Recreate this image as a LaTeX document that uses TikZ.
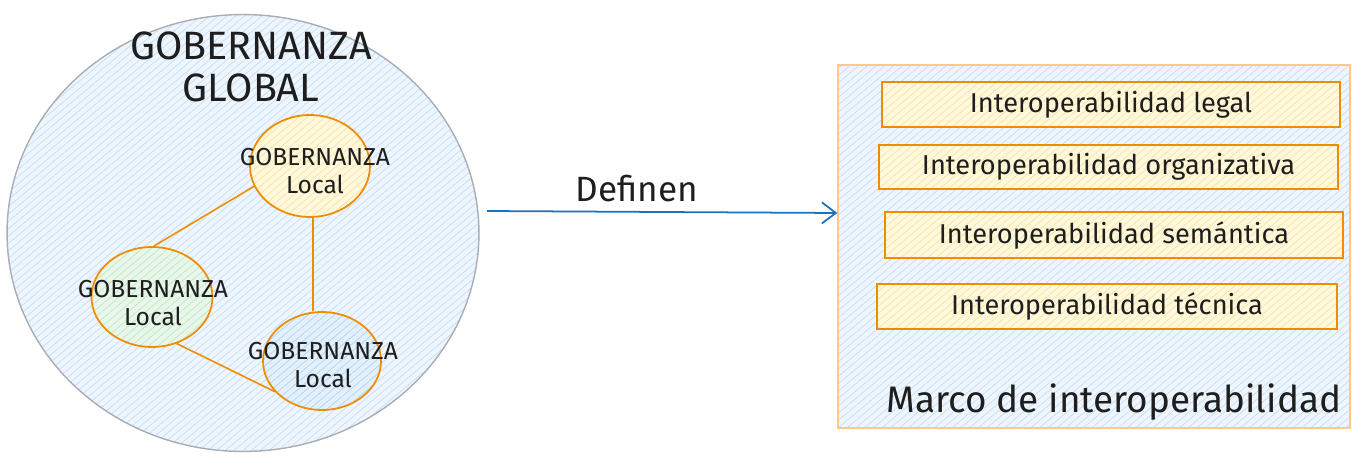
\documentclass[tikz,border=0pt]{standalone}
\usepackage{fontspec}
\setmainfont{Fira Sans}
\usetikzlibrary{shapes.geometric,patterns.meta,arrows.meta}
\definecolor{ink}{HTML}{1E1E1E}
\definecolor{blueFill}{HTML}{EEF5FC}
\definecolor{blueHatch}{HTML}{BFDDF7}
\definecolor{yelFill}{HTML}{FFF8DC}
\definecolor{yelHatch}{HTML}{F7E39A}
\definecolor{greFill}{HTML}{E9F7EA}
\definecolor{greHatch}{HTML}{B9E8BE}
\definecolor{bluSFill}{HTML}{E3F0FC}
\definecolor{bluSHatch}{HTML}{A9D1F5}
\definecolor{orng}{HTML}{F08C00}
\definecolor{lorng}{HTML}{FFC98A}
\definecolor{arrowblue}{HTML}{1971C2}
\definecolor{grayline}{HTML}{A8AEB4}
\tikzset{
  hatch/.style 2 args={preaction={fill=#1},pattern={Lines[angle=40,distance=3.2pt,line width=0.35pt]},pattern color=#2},
  localcirc/.style={ellipse,draw=orng,line width=1pt,inner sep=0pt},
  localtext/.style={text=ink,align=center,font=\fontsize{14}{15.5}\selectfont},
  layerbox/.style={rectangle,draw=orng,line width=1pt,inner sep=0pt,text=ink,font=\fontsize{15.5}{18}\selectfont,hatch={yelFill}{yelHatch}},
  link/.style={draw=orng,line width=0.9pt},
}
\begin{document}
\begin{tikzpicture}[x=0.02cm,y=-0.02cm]
\useasboundingbox (0,0) rectangle (1368,456);
% global circle
\node[ellipse,draw=grayline,line width=0.8pt,minimum width=9.44cm,minimum height=8.74cm,hatch={blueFill}{blueHatch}] (global) at (243,233) {};
\node[text=ink,align=center,font=\fontsize{22.5}{24}\selectfont] (gtitle) at (251,67) {GOBERNANZA\\GLOBAL};
% local circles
\node[localcirc,minimum width=2.4cm,minimum height=2.04cm,hatch={yelFill}{yelHatch}] (ly) at (310,166) {};
\node[localcirc,minimum width=2.42cm,minimum height=2.0cm,hatch={greFill}{greHatch}] (lg) at (152,297) {};
\node[localcirc,minimum width=2.36cm,minimum height=1.96cm,hatch={bluSFill}{bluSHatch}] (lb) at (322,361) {};
\node[localtext] (ty) at (315,171) {GOBERNANZA\\Local};
\node[localtext] (tg) at (153,303) {GOBERNANZA\\Local};
\node[localtext] (tb) at (323,365) {GOBERNANZA\\Local};
% links
\coordinate (vx) at (313,0);
\draw[link] (ly.200) -- (lg.88);
\draw[link] (ly.south -| vx) -- (lb.north -| vx);
\draw[link] (lg.-62) -- (lb.213);
% framework
\node[rectangle,draw=lorng,line width=0.8pt,minimum width=10.24cm,minimum height=7.26cm,inner sep=0pt,hatch={blueFill}{blueHatch}] (marco) at (1094,246.5) {};
\node[layerbox,minimum width=9.16cm,minimum height=0.9cm] (legal) at (1111,104.5) {Interoperabilidad legal};
\node[layerbox,minimum width=9.18cm,minimum height=0.88cm] (org) at (1108.5,167) {Interoperabilidad organizativa};
\node[layerbox,minimum width=9.16cm,minimum height=0.92cm] (sem) at (1114,235) {Interoperabilidad semántica};
\node[layerbox,minimum width=9.2cm,minimum height=0.9cm] (tec) at (1107,306.5) {Interoperabilidad técnica};
\node[text=ink,font=\fontsize{21}{24}\selectfont] (mtitle) at (1114,402) {Marco de interoperabilidad};
% arrow
\coordinate (astart) at (487,211);
\draw[arrowblue,line width=1pt,-{Straight Barb[length=8pt,width=12pt]}] (astart) -- (marco.west |- 0,213) coordinate (aend);
\node[text=ink,font=\fontsize{20}{22}\selectfont] (deflabel) at (637,189) {Definen};
\end{tikzpicture}
\end{document}
